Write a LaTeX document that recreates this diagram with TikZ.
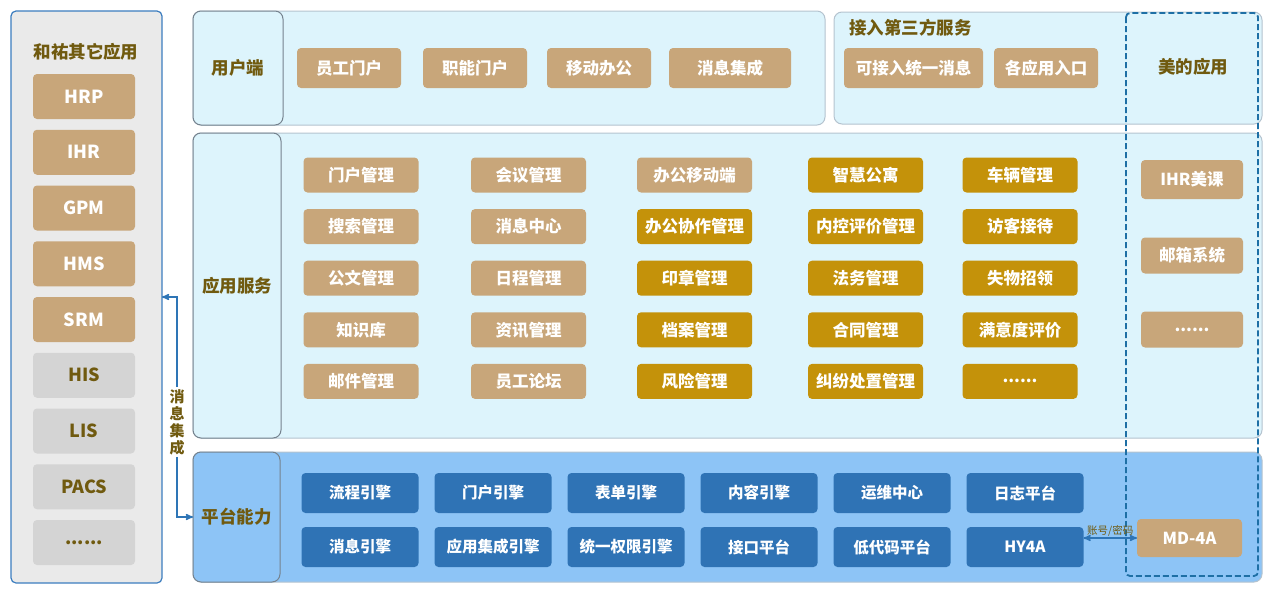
\documentclass[tikz,border=0pt]{standalone}
\usepackage{fontspec}
\setmainfont{Noto Sans CJK SC}
\usepackage{tikz}
\usetikzlibrary{arrows,positioning}
\definecolor{tanbox}{HTML}{C8A67A}
\definecolor{goldbox}{HTML}{C4920A}
\definecolor{graybox}{HTML}{D4D4D4}
\definecolor{olivetext}{HTML}{705A0F}
\definecolor{leftfill}{HTML}{EAEAEA}
\definecolor{leftline}{HTML}{3C7DBF}
\definecolor{panelfill}{HTML}{DDF4FC}
\definecolor{panelline}{HTML}{B4C3CF}
\definecolor{labelline}{HTML}{75828E}
\definecolor{platfill}{HTML}{8DC4F6}
\definecolor{platblue}{HTML}{2F73B5}
\definecolor{linkblue}{HTML}{2E75B6}
\definecolor{dashblue}{HTML}{1E6FA5}
\tikzset{
  every picture/.style = {
    >=stealth',
    node distance = 16pt and 20pt,
  }
  ,
  panel/.style = {
    rectangle,
    rounded corners = 8pt,
    draw = panelline,
    fill = panelfill,
    line width = 1pt,
    anchor = north west,
    inner sep = 0pt,
    outer sep = 0pt
  }
  , % left boxes of the layers
  panel-label/.style = {
    panel,
    draw = labelline,
    text = olivetext,
    font = \bfseries\fontsize{17.5}{20}\selectfont
  }
  ,
  title/.style = {
    text = olivetext,
    font = \bfseries\fontsize{17.5}{20}\selectfont
  }
  ,
  box/.style = {
    rectangle,
    rounded corners = 4pt,
    inner sep = 0pt,
    outer sep = 0pt,
    text = white,
    font = \bfseries\fontsize{16.5}{19}\selectfont,
    minimum width = 115pt,
    minimum height = 35pt
  }
  ,
  tan-box/.style = {box, fill = tanbox},
  gold-box/.style = {box, fill = goldbox},
  other-box/.style = {
    box,
    fill = tanbox,
    font = \bfseries\fontsize{18}{20}\selectfont,
    minimum width = 102pt,
    minimum height = 45pt
  }
  ,
  gray-box/.style = {other-box, fill = graybox, text = olivetext},
  plat-box/.style = {
    box,
    fill = platblue,
    font = \bfseries\fontsize{15.5}{18}\selectfont,
    minimum width = 117pt,
    minimum height = 40pt
  }
  , % connectors
  link/.style = {
    draw = linkblue,
    line width = 1.5pt
  }
  ,
  bus-label/.style = {
    align = center,
    text = olivetext,
    font = \bfseries\fontsize{15}{17}\selectfont,
    inner sep = 2pt
  }
  ,
  account-label/.style = {
    text = olivetext,
    font = \fontsize{10.5}{12}\selectfont,
    inner sep = 1pt
  }
}
\begin{document}
\begin{tikzpicture}[x=1pt, y=-1pt]
\useasboundingbox (0,0) rectangle (1269,589);

% other applications
\node[panel, fill=leftfill, draw=leftline, line width=1.2pt, rounded corners=5pt, minimum width=151pt, minimum height=572pt] (other-panel) at (11,11) {};
\node[title] (other-title) at (86,52) {和祐其它应用};
\node[other-box] (hrp) at (84,96.5) {HRP};
\node[other-box, below = 10.75pt of hrp] (ihr) {IHR};
\node[other-box, below = 10.75pt of ihr] (gpm) {GPM};
\node[other-box, below = 10.75pt of gpm] (hms) {HMS};
\node[other-box, below = 10.75pt of hms] (srm) {SRM};
\node[gray-box, below = 10.75pt of srm] (his) {HIS};
\node[gray-box, below = 10.75pt of his] (lis) {LIS};
\node[gray-box, below = 10.75pt of lis] (pacs) {PACS};
\node[gray-box, below = 10.75pt of pacs] (other-more) {......};

% user layer
\node[panel, minimum width=632pt, minimum height=114pt] (user-panel) at (193,11) {};
\node[panel-label, minimum width=90pt, minimum height=114pt] (user-label) at (193,11) {用户端};
\node[tan-box, minimum width=104pt, minimum height=40pt] (staff-portal) at (349,68) {员工门户};
\node[tan-box, minimum width=104pt, minimum height=40pt, right = 22pt of staff-portal] (func-portal) {职能门户};
\node[tan-box, minimum width=104pt, minimum height=40pt, right = 20pt of func-portal] (mobile-office) {移动办公};
\node[tan-box, minimum width=122pt, minimum height=40pt, right = 18pt of mobile-office] (msg-collect) {消息集成};

% third party
\node[panel, minimum width=428pt, minimum height=112pt] (third-panel) at (834,12) {};
\node[title, anchor=west, inner sep=0pt] (third-title) at (849,28) {接入第三方服务};
\node[tan-box, minimum width=139pt, minimum height=40pt] (unified-msg) at (913.5,68) {可接入统一消息};
\node[tan-box, minimum width=104pt, minimum height=40pt, right = 11pt of unified-msg] (app-entry) {各应用入口};
\node[title] (midea-title) at (1193,67) {美的应用};

% application services
\node[panel, minimum width=1069pt, minimum height=305pt] (app-panel) at (193,133) {};
\node[panel-label, minimum width=88pt, minimum height=305pt] (app-label) at (193,133) {应用服务};
\node[tan-box] (portal-mgmt) at (361,175) {门户管理};
\node[tan-box, below = 16.6pt of portal-mgmt] (search-mgmt) {搜索管理};
\node[tan-box, below = 16.6pt of search-mgmt] (doc-mgmt) {公文管理};
\node[tan-box, below = 16.6pt of doc-mgmt] (knowledge) {知识库};
\node[tan-box, below = 16.6pt of knowledge] (mail-mgmt) {邮件管理};
\node[tan-box] (meeting-mgmt) at (528.5,175) {会议管理};
\node[tan-box, below = 16.6pt of meeting-mgmt] (msg-center) {消息中心};
\node[tan-box, below = 16.6pt of msg-center] (schedule-mgmt) {日程管理};
\node[tan-box, below = 16.6pt of schedule-mgmt] (news-mgmt) {资讯管理};
\node[tan-box, below = 16.6pt of news-mgmt] (staff-forum) {员工论坛};
\node[tan-box] (mobile-end) at (694.5,175) {办公移动端};
\node[gold-box, below = 16.6pt of mobile-end] (collab-mgmt) {办公协作管理};
\node[gold-box, below = 16.6pt of collab-mgmt] (seal-mgmt) {印章管理};
\node[gold-box, below = 16.6pt of seal-mgmt] (archive-mgmt) {档案管理};
\node[gold-box, below = 16.6pt of archive-mgmt] (risk-mgmt) {风险管理};
\node[gold-box] (smart-flat) at (865.5,175) {智慧公寓};
\node[gold-box, below = 16.6pt of smart-flat] (control-eval) {内控评价管理};
\node[gold-box, below = 16.6pt of control-eval] (legal-mgmt) {法务管理};
\node[gold-box, below = 16.6pt of legal-mgmt] (contract-mgmt) {合同管理};
\node[gold-box, below = 16.6pt of contract-mgmt] (dispute-mgmt) {纠纷处置管理};
\node[gold-box] (vehicle-mgmt) at (1020,175) {车辆管理};
\node[gold-box, below = 16.6pt of vehicle-mgmt] (visitor) {访客接待};
\node[gold-box, below = 16.6pt of visitor] (lost-found) {失物招领};
\node[gold-box, below = 16.6pt of lost-found] (satisfaction) {满意度评价};
\node[gold-box, below = 16.6pt of satisfaction] (app-more) {......};
\node[tan-box, minimum width=102pt, minimum height=39pt] (ihr-course) at (1192,179.5) {IHR美课};
\node[tan-box, minimum width=102pt, minimum height=36pt] (mailbox) at (1192,255.5) {邮箱系统};
\node[tan-box, minimum width=102pt, minimum height=36pt] (midea-more) at (1192,329.5) {......};

% platform
\node[panel, fill=platfill, minimum width=1069pt, minimum height=130pt] (plat-panel) at (193,452) {};
\node[panel-label, fill=platfill, minimum width=87pt, minimum height=130pt] (plat-label) at (193,452) {平台能力};
\node[plat-box] (flow-engine) at (360,493) {流程引擎};
\node[plat-box, right = 16pt of flow-engine] (portal-engine) {门户引擎};
\node[plat-box, right = 16pt of portal-engine] (form-engine) {表单引擎};
\node[plat-box, right = 16pt of form-engine] (content-engine) {内容引擎};
\node[plat-box, right = 16pt of content-engine] (ops-center) {运维中心};
\node[plat-box, right = 16pt of ops-center] (log-platform) {日志平台};
\node[plat-box, below = 14pt of flow-engine] (msg-engine) {消息引擎};
\node[plat-box, right = 16pt of msg-engine] (integ-engine) {应用集成引擎};
\node[plat-box, right = 16pt of integ-engine] (auth-engine) {统一权限引擎};
\node[plat-box, right = 16pt of auth-engine] (api-platform) {接口平台};
\node[plat-box, right = 16pt of api-platform] (lowcode) {低代码平台};
\node[plat-box, right = 16pt of lowcode] (hy4a) {HY4A};
\node[tan-box, minimum width=105pt, minimum height=38pt] (md4a) at (1189.5,538) {MD-4A};

\draw[dashed, draw=dashblue, line width=1.8pt, dash pattern=on 6pt off 3pt, rounded corners=4pt] (1126,13) rectangle (1258,576);

% message integration
\node[bus-label] (msg-int) at (177,422) {消\\息\\集\\成};
\coordinate (bus-top) at (177,297);
\coordinate (bus-bot) at (177,517);
\draw[link, ->] (msg-int) -- (bus-top) -- (bus-top -| other-panel.east);
\draw[link, ->] (msg-int) -- (bus-bot) -- (bus-bot -| plat-panel.west);

\draw[link, <->] (hy4a.east |- md4a.west) -- node[account-label, above] {账号/密码} (md4a.west);
\end{tikzpicture}
\end{document}
